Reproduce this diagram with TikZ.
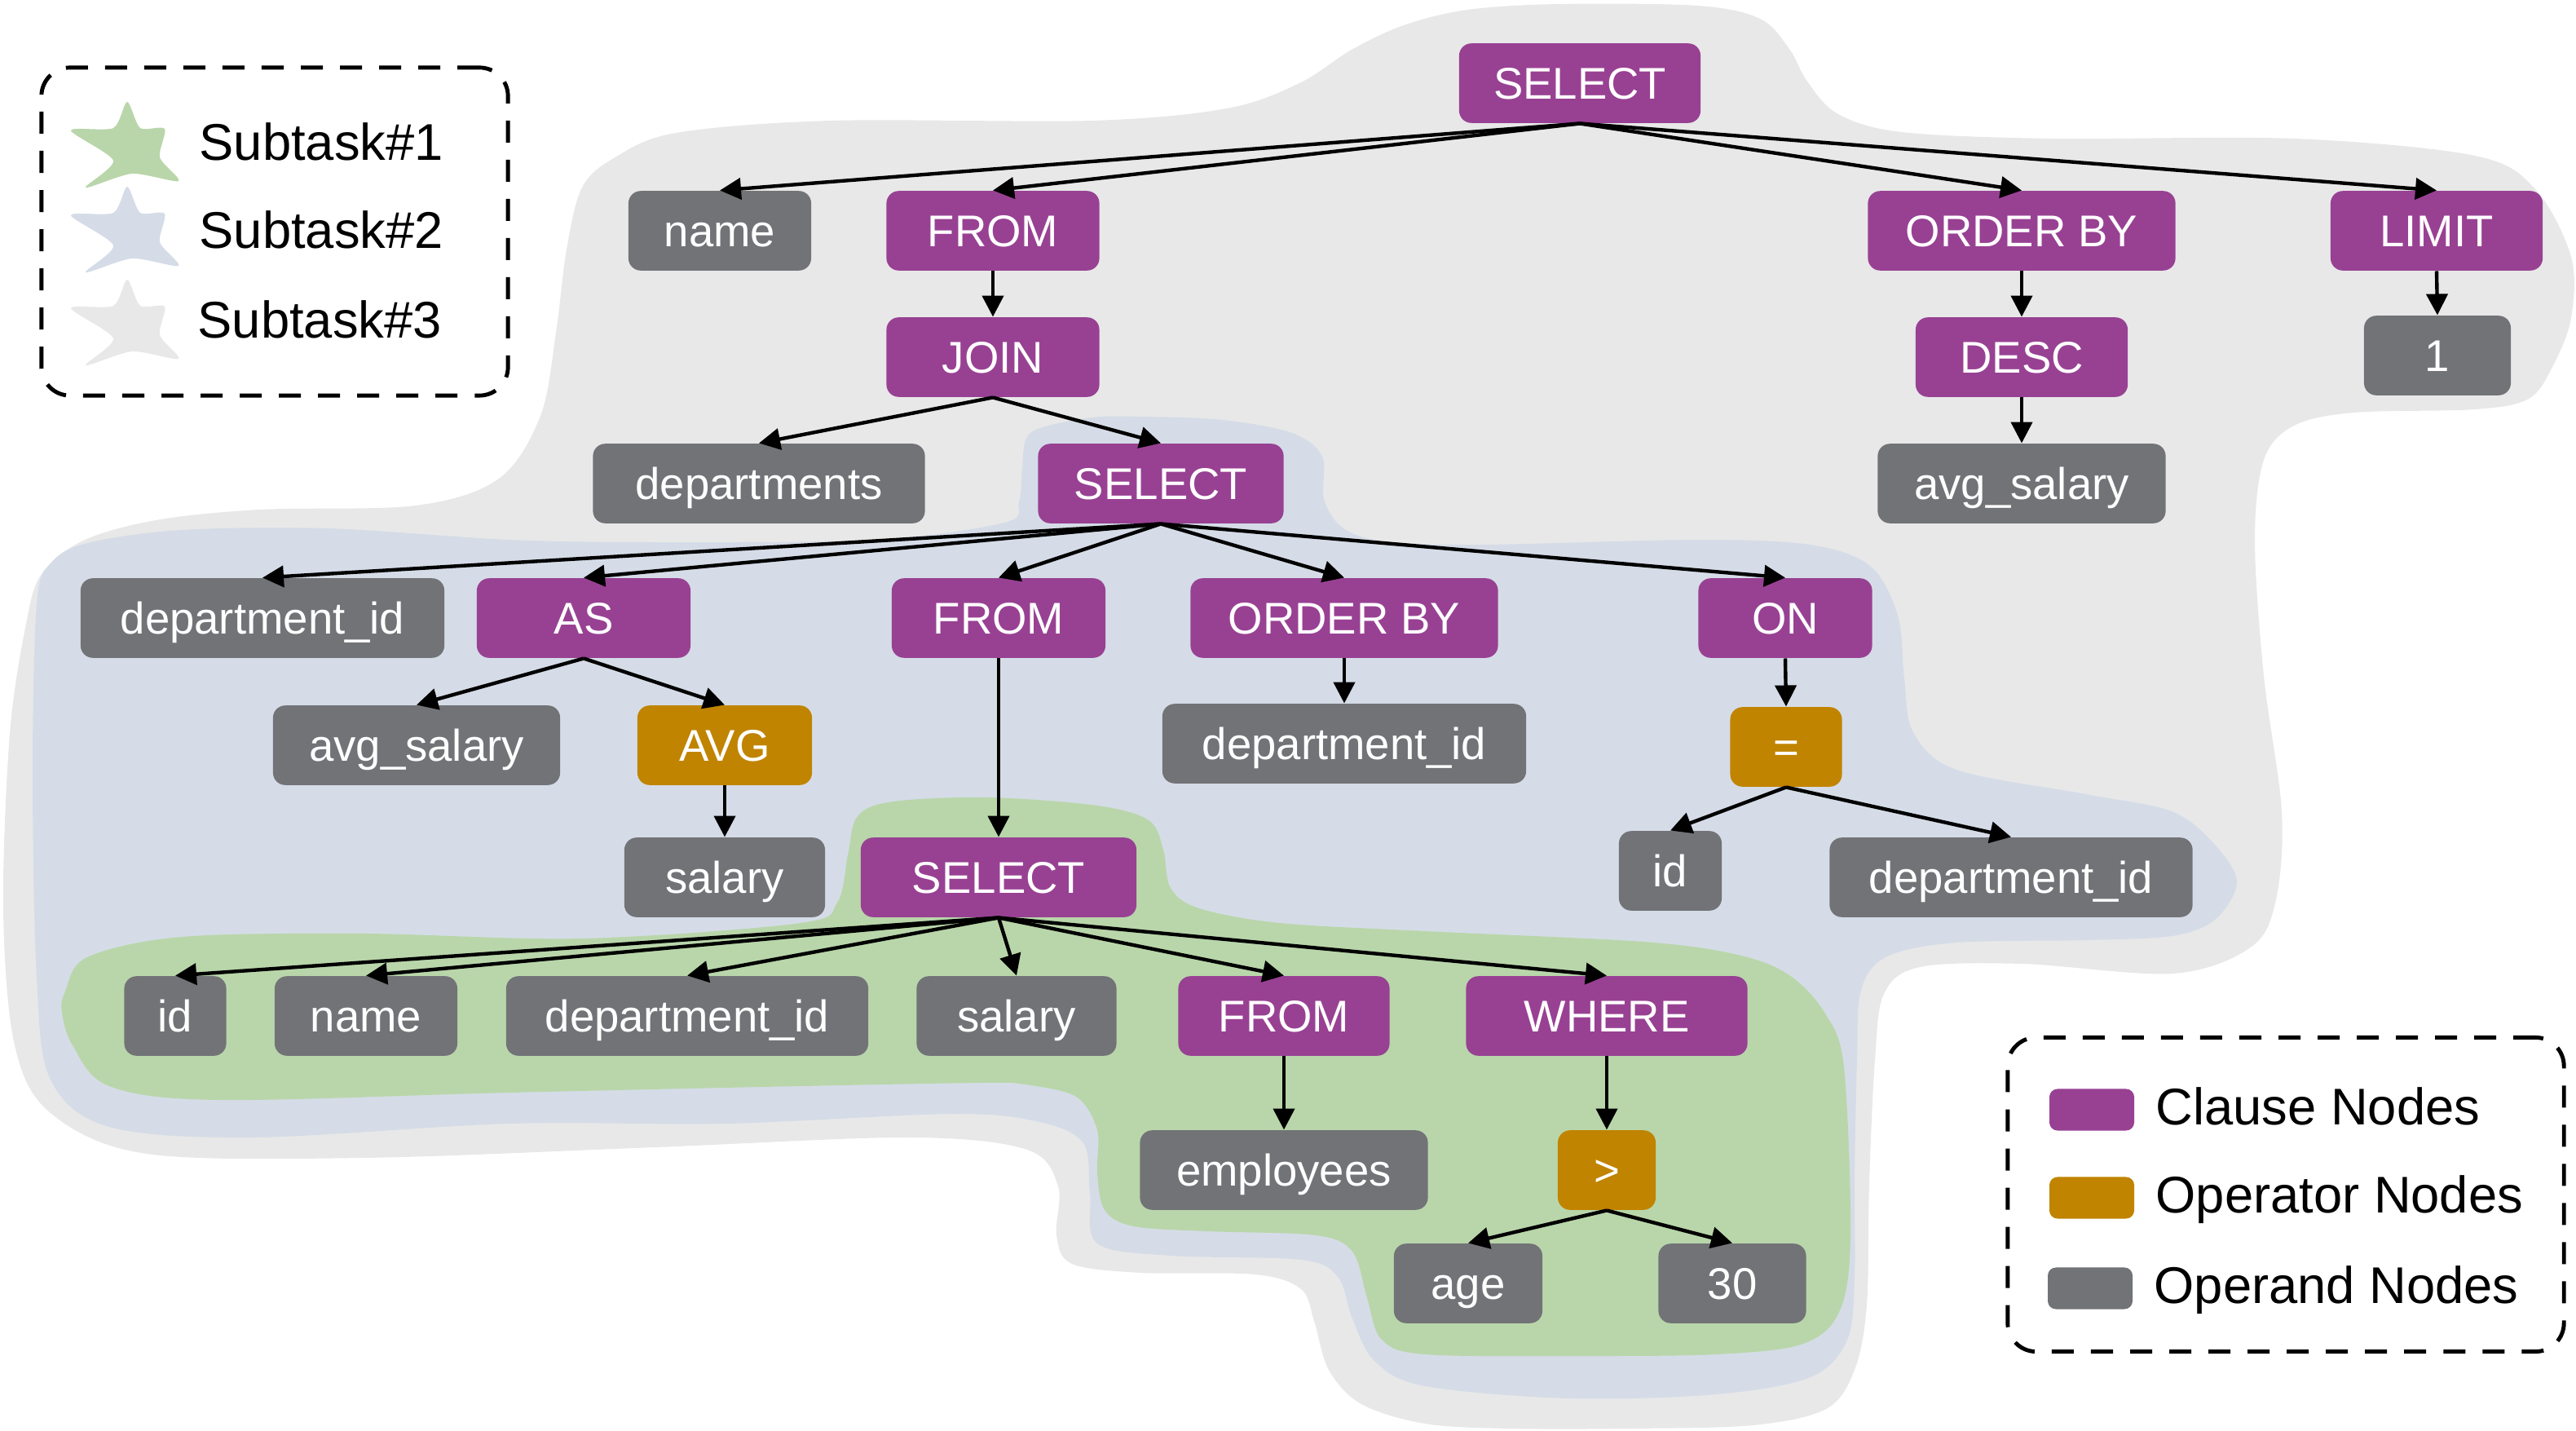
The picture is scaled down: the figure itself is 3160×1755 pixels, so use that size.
\documentclass[tikz,border=0pt]{standalone}
\usepackage{fontspec}
\setmainfont{Liberation Sans}
\usetikzlibrary{arrows.meta}
\definecolor{clause}{RGB}{152,65,147}
\definecolor{oper}{RGB}{192,132,0}
\definecolor{operand}{RGB}{114,115,119}
\definecolor{bggray}{RGB}{232,232,232}
\definecolor{bgblue}{RGB}{213,220,231}
\definecolor{bggreen}{RGB}{185,214,170}
\tikzset{
 nd/.style={rounded corners=0.15cm, minimum height=0.975cm, inner xsep=0pt, inner ysep=0pt, text=white, font=\fontsize{15.5}{18}\selectfont, text height=0.42cm, text depth=0.03cm},
 cl/.style={nd, fill=clause},
 op/.style={nd, fill=oper},
 od/.style={nd, fill=operand},
 arr/.style={-{Triangle[length=0.26cm,width=0.26cm]}, line width=1.25pt, black},
 legbox/.style={draw, line width=1.4pt, dash pattern=on 0.27cm off 0.21cm, rounded corners=0.35cm},
 legtext/.style={anchor=base west, inner sep=0pt, font=\fontsize{18}{21}\selectfont},
 swatch/.style={rounded corners=0.1cm, minimum width=1.04cm, minimum height=0.51cm, inner sep=0pt},
}
\begin{document}
\begin{tikzpicture}[x=0.01cm, y=-0.01cm]
\useasboundingbox (0,0) rectangle (3160,1755);
% Subtask#3 region
\fill[bggray] plot[smooth cycle, tension=0.55] coordinates {
(1913,5) (2083,7) (2159,23) (2195,60) (2217,100) (2255,140) (2333,162) (2518,170) (2814,170) (3036,191) (3110,232) (3154,315) (3154,390) (3132,448) (3102,489) (3036,502) (2888,506) (2814,522) (2777,564) (2766,663) (2777,829) (2799,995) (2792,1103) (2762,1161) (2666,1194) (2481,1182) (2355,1186) (2311,1219) (2300,1300) (2293,1450) (2290,1600) (2275,1680) (2240,1728) (2150,1748) (2000,1752) (1850,1752) (1748,1746) (1670,1722) (1630,1680) (1612,1620) (1596,1581) (1540,1563) (1400,1561) (1315,1550) (1296,1515) (1298,1455) (1260,1410) (1116,1395) (804,1407) (446,1420) (180,1415) (62,1365) (18,1282) (4,1116) (12,900) (32,765) (51,704) (102,663) (191,638) (319,625) (510,620) (612,587) (663,510) (682,408) (695,306) (714,230) (753,194) (829,163) (1020,148) (1339,148) (1505,133) (1594,102) (1658,61) (1722,31) (1800,12)};
% Subtask#2 region
\fill[bgblue] plot[smooth cycle, tension=0.55] coordinates {
(1276,525) (1339,512) (1403,511) (1500,515) (1585,531) (1622,560) (1624,612) (1648,648) (1700,664) (1818,668) (2082,662) (2220,668) (2294,694) (2328,755) (2336,832) (2347,898) (2400,944) (2559,974) (2664,995) (2717,1036) (2744,1082) (2717,1128) (2664,1148) (2559,1153) (2400,1156) (2315,1173) (2283,1214) (2278,1300) (2275,1450) (2275,1566) (2266,1643) (2221,1689) (2105,1710) (1927,1715) (1748,1700) (1686,1669) (1659,1617) (1641,1566) (1596,1545) (1436,1540) (1346,1525) (1337,1463) (1329,1402) (1275,1376) (1168,1366) (893,1378) (625,1378) (312,1395) (134,1382) (62,1324) (45,1199) (40,949) (45,741) (62,691) (107,666) (223,650) (402,648) (625,662) (804,665) (1071,662) (1232,641) (1250,616) (1254,575) (1258,540)};
% Subtask#1 region
\fill[bggreen] plot[smooth cycle, tension=0.55] coordinates {
(1052,1001) (1096,983) (1212,978) (1346,988) (1409,1006) (1427,1042) (1436,1089) (1471,1114) (1570,1132) (1748,1142) (2016,1155) (2132,1171) (2195,1196) (2239,1243) (2262,1309) (2270,1515) (2257,1607) (2212,1648) (2105,1661) (1927,1663) (1748,1661) (1695,1643) (1677,1592) (1659,1535) (1614,1515) (1480,1510) (1391,1504) (1355,1484) (1346,1438) (1346,1386) (1320,1345) (1257,1330) (1205,1328) (982,1332) (625,1340) (268,1349) (134,1332) (89,1282) (76,1241) (80,1216) (107,1174) (223,1149) (446,1145) (714,1151) (982,1132) (1027,1107) (1040,1049)};

% nodes
\node[cl, minimum width=2.96cm] (sel1) at (1938,102) {SELECT};
\node[od, minimum width=2.24cm] (name1) at (883,283) {name};
\node[cl, minimum width=2.61cm] (from1) at (1218,283) {FROM};
\node[cl, minimum width=3.77cm] (ob1) at (2480,283) {ORDER BY};
\node[cl, minimum width=2.60cm] (limit) at (2989,283) {LIMIT};
\node[cl, minimum width=2.61cm] (join) at (1218,438) {JOIN};
\node[cl, minimum width=2.60cm] (desc) at (2480,438) {DESC};
\node[od, minimum width=1.80cm] (one) at (2990,436) {1};
\node[od, minimum width=4.07cm] (depts) at (931,593) {departments};
\node[cl, minimum width=3.01cm] (sel2) at (1424,593) {SELECT};
\node[od, minimum width=3.53cm] (avgsal1) at (2480,593) {avg\_salary};
\node[od, minimum width=4.46cm] (deptid1) at (322,758) {department\_id};
\node[cl, minimum width=2.62cm] (as) at (716,758) {AS};
\node[cl, minimum width=2.62cm] (from2) at (1225,758) {FROM};
\node[cl, minimum width=3.77cm] (ob2) at (1649,758) {ORDER BY};
\node[cl, minimum width=2.13cm] (on) at (2190,758) {ON};
\node[od, minimum width=3.52cm] (avgsal2) at (511,914) {avg\_salary};
\node[op, minimum width=2.14cm] (avg) at (889,914) {AVG};
\node[od, minimum width=4.46cm] (deptid2) at (1649,912) {department\_id};
\node[op, minimum width=1.37cm] (eq) at (2191,916) {=};
\node[od, minimum width=2.46cm] (salary1) at (889,1076) {salary};
\node[cl, minimum width=3.38cm] (sel3) at (1225,1076) {SELECT};
\node[od, minimum width=1.26cm] (id2) at (2049,1068) {id};
\node[od, minimum width=4.45cm] (deptid3) at (2467,1076) {department\_id};
\node[od, minimum width=1.25cm] (id1) at (215,1246) {id};
\node[od, minimum width=2.24cm] (name2) at (449,1246) {name};
\node[od, minimum width=4.44cm] (deptid4) at (843,1246) {department\_id};
\node[od, minimum width=2.45cm] (salary2) at (1247,1246) {salary};
\node[cl, minimum width=2.59cm] (from3) at (1575,1246) {FROM};
\node[cl, minimum width=3.45cm] (where) at (1971,1246) {WHERE};
\node[od, minimum width=3.53cm] (emp) at (1575,1435) {employees};
\node[op, minimum width=1.20cm] (gt) at (1971,1435) {>};
\node[od, minimum width=1.82cm] (age) at (1801,1574) {age};
\node[od, minimum width=1.81cm] (thirty) at (2125,1574) {30};

% connectors
\foreach \a/\b in {sel1/name1, sel1/from1, sel1/ob1, sel1/limit, from1/join, join/depts, join/sel2, ob1/desc, desc/avgsal1, limit/one, sel2/deptid1, sel2/as, sel2/from2, sel2/ob2, sel2/on, as/avgsal2, as/avg, avg/salary1, from2/sel3, ob2/deptid2, on/eq, eq/id2, eq/deptid3, sel3/id1, sel3/name2, sel3/deptid4, sel3/salary2, sel3/from3, sel3/where, from3/emp, where/gt, gt/age, gt/thirty}
  \draw[arr] (\a.south) -- (\b.north);

% legend 1
\node[legbox, minimum width=5.72cm, minimum height=4.02cm, inner sep=0pt] (leg1) at (337,284) {};
\foreach \dy/\col in {0/bggreen, 104/bgblue, 218/bggray}
  \fill[\col, shift={(0,\dy)}] plot[smooth cycle, tension=0.45] coordinates {(156,125) (172,157) (202,158) (196,193) (219,222) (162,213) (105,230) (139,197) (87,160) (139,157)};
\node[legtext] (t1) at (244,197) {Subtask\#1};
\node[legtext] (t2) at (244,305) {Subtask\#2};
\node[legtext] (t3) at (242,415) {Subtask\#3};

% legend 2
\node[legbox, minimum width=6.82cm, minimum height=3.85cm, inner sep=0pt] (leg2) at (2804,1465) {};
\node[swatch, fill=clause] (s1) at (2566,1361) {};
\node[swatch, fill=oper] (s2) at (2566,1469) {};
\node[swatch, fill=operand] (s3) at (2564,1580) {};
\node[legtext] (l1) at (2644,1379) {Clause Nodes};
\node[legtext] (l2) at (2644,1487) {Operator Nodes};
\node[legtext] (l3) at (2642,1598) {Operand Nodes};
\end{tikzpicture}
\end{document}
